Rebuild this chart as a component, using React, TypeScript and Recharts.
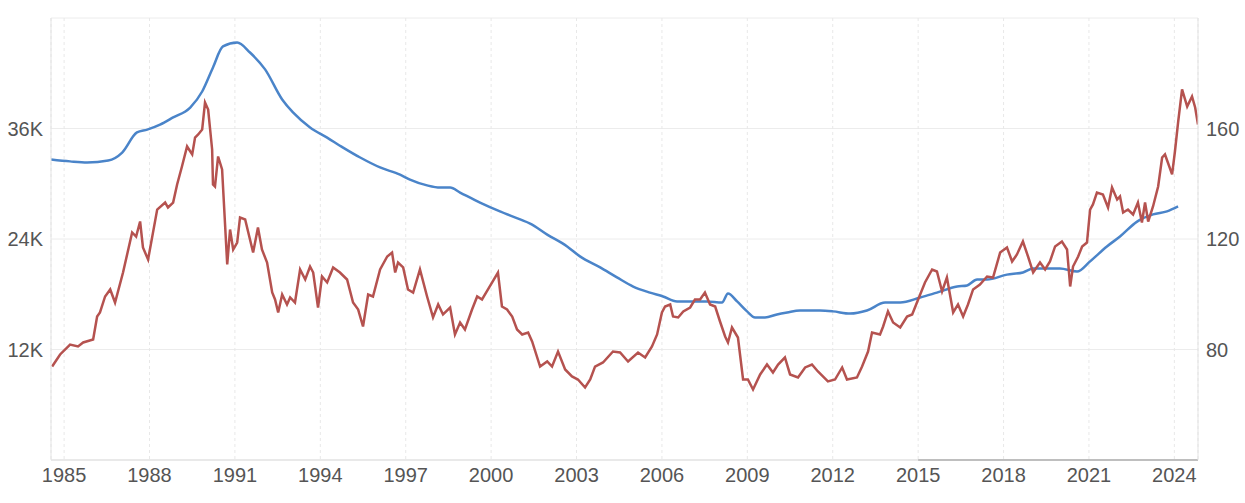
import {
  LineChart,
  Line,
  XAxis,
  YAxis,
  CartesianGrid,
  ReferenceLine,
} from 'recharts';

const yearTicks = [1985, 1988, 1991, 1994, 1997, 2000, 2003, 2006, 2009, 2012, 2015, 2018, 2021, 2024];
const leftTicks = [0, 12000, 24000, 36000, 48000];
const rightTicks = [40, 80, 120, 160, 200];

const redYears = [
  1984.58, 1984.86, 1985.21, 1985.49, 1985.67, 1986.02, 1986.16, 1986.26, 1986.44, 1986.62,
  1986.79, 1987.07, 1987.39, 1987.53, 1987.67, 1987.77, 1987.95, 1988.27, 1988.55, 1988.65,
  1988.83, 1988.97, 1989.14, 1989.32, 1989.5, 1989.6, 1989.71, 1989.85, 1989.95, 1990.06,
  1990.2, 1990.23, 1990.3, 1990.41, 1990.55, 1990.73, 1990.83, 1990.94, 1991.08, 1991.18,
  1991.36, 1991.53, 1991.64, 1991.81, 1991.95, 1992.13, 1992.31, 1992.41, 1992.52, 1992.66,
  1992.83, 1992.94, 1993.11, 1993.29, 1993.47, 1993.64, 1993.75, 1993.92, 1994.06, 1994.24,
  1994.45, 1994.69, 1994.94, 1995.15, 1995.33, 1995.5, 1995.68, 1995.85, 1996.1, 1996.35,
  1996.52, 1996.63, 1996.73, 1996.91, 1997.08, 1997.26, 1997.5, 1997.75, 1997.96, 1998.14,
  1998.31, 1998.56, 1998.73, 1998.91, 1999.08, 1999.33, 1999.51, 1999.68, 1999.89, 2000.24,
  2000.38, 2000.56, 2000.74, 2000.91, 2001.09, 2001.3, 2001.44, 2001.72, 2001.97, 2002.14,
  2002.35, 2002.6, 2002.84, 2003.05, 2003.3, 2003.48, 2003.65, 2003.93, 2004.28, 2004.53,
  2004.81, 2005.16, 2005.41, 2005.65, 2005.83, 2006.0, 2006.11, 2006.29, 2006.39, 2006.57,
  2006.75, 2006.99, 2007.16, 2007.34, 2007.51, 2007.69, 2007.87, 2008.04, 2008.22, 2008.32,
  2008.46, 2008.67, 2008.85, 2009.02, 2009.2, 2009.45, 2009.69, 2009.9, 2010.08, 2010.32,
  2010.5, 2010.78, 2011.03, 2011.27, 2011.48, 2011.83, 2012.08, 2012.33, 2012.5, 2012.85,
  2013.03, 2013.24, 2013.38, 2013.66, 2013.77, 2013.94, 2014.12, 2014.37, 2014.61, 2014.79,
  2015.0, 2015.24, 2015.49, 2015.66, 2015.84, 2016.01, 2016.23, 2016.4, 2016.58, 2016.75,
  2016.93, 2017.17, 2017.42, 2017.63, 2017.88, 2018.12, 2018.3, 2018.47, 2018.68, 2018.86,
  2019.04, 2019.28, 2019.46, 2019.63, 2019.81, 2020.05, 2020.23, 2020.34, 2020.44, 2020.62,
  2020.76, 2020.93, 2021.04, 2021.14, 2021.28, 2021.49, 2021.67, 2021.81, 2021.99, 2022.09,
  2022.2, 2022.37, 2022.55, 2022.72, 2022.86, 2022.97, 2023.08, 2023.25, 2023.43, 2023.57,
  2023.67, 2023.92, 2024.02, 2024.13, 2024.27, 2024.45, 2024.62, 2024.73, 2024.83,
];

const redValues = [
  10150, 11460, 12540, 12330, 12760, 13090, 15580, 16020, 17760, 18520,
  17100, 20360, 24710, 24270, 25900, 23080, 21770, 27200, 27960, 27420,
  27960, 29920, 31870, 34050, 33180, 35020, 35350, 35890, 38820, 38060,
  33720, 29920, 29700, 32960, 31550, 21230, 25030, 22860, 23620, 26340,
  26120, 23950, 22530, 25250, 22860, 21450, 18190, 17430, 16020, 17970,
  16890, 17650, 17100, 20690, 19600, 21010, 20360, 16560, 19930, 19280,
  20910, 20360, 19600, 17100, 16340, 14500, 17970, 17760, 20690, 22100,
  22530, 20360, 21450, 20910, 18520, 18190, 20690, 17760, 15480, 16890,
  15800, 16560, 13630, 14930, 14170, 16340, 17760, 17430, 18520, 20360,
  16670, 16340, 15580, 14170, 13630, 13850, 12870, 10150, 10700, 10150,
  11780, 9830, 9070, 8740, 7870, 8740, 10150, 10590, 11780, 11670,
  10700, 11670, 11130, 12330, 13630, 16020, 16670, 16890, 15580, 15480,
  16130, 16560, 17430, 17430, 18190, 16890, 16670, 15040, 13410, 12760,
  14390, 13300, 8740, 8740, 7660, 9290, 10370, 9500, 10370, 11130,
  9290, 8960, 10050, 10370, 9610, 8530, 8740, 10050, 8740, 8960,
  10150, 11780, 13850, 13630, 14500, 16130, 14930, 14390, 15580, 15800,
  17430, 19280, 20690, 20470, 18300, 19820, 16020, 16890, 15580, 16890,
  18520, 19060, 19930, 19820, 22530, 23080, 21560, 22320, 23730, 22100,
  20360, 21450, 20690, 21560, 23190, 23730, 22860, 18840, 21010, 22100,
  23190, 23620, 27200, 27750, 29050, 28830, 27420, 29590, 28290, 28620,
  26880, 27200, 26660, 27960, 25790, 27960, 25900, 27530, 29700, 32850,
  33180, 31010, 33500, 36650, 40240, 38390, 39480, 38280, 36440,
];

const blueYears = [
  1984.54, 1985.21, 1985.81, 1986.55, 1987.04, 1987.56, 1987.92, 1988.37, 1988.83, 1989.43,
  1989.85, 1990.23, 1990.58, 1991.08, 1991.53, 1992.06, 1992.66, 1993.04, 1993.64, 1994.24,
  1994.8, 1995.4, 1996.1, 1996.8, 1997.15, 1997.75, 1998.21, 1998.56, 1998.91, 1999.61,
  2000.31, 2001.02, 2001.37, 2001.97, 2002.67, 2003.12, 2003.83, 2004.42, 2004.99, 2005.58,
  2006.04, 2006.53, 2006.99, 2007.58, 2008.11, 2008.32, 2008.64, 2008.99, 2009.27, 2009.62,
  2010.04, 2010.4, 2010.85, 2011.55, 2012.01, 2012.61, 2013.2, 2013.84, 2014.37, 2015.07,
  2015.66, 2016.37, 2016.72, 2017.07, 2017.42, 2018.12, 2018.68, 2019.04, 2019.63, 2019.98,
  2020.58, 2021.04, 2021.63, 2022.09, 2022.69, 2023.25, 2023.74, 2024.13,
];

const blueValues = [
  148.8, 148.1, 147.7, 148.4, 151.3, 158.6, 159.6, 161.4, 164.0, 167.6,
  173.4, 182.1, 189.7, 191.1, 187.5, 181.4, 170.5, 165.8, 160.4, 156.7,
  153.1, 149.5, 145.9, 143.3, 141.5, 139.4, 138.6, 138.6, 136.8, 133.2,
  130.0, 127.1, 125.6, 121.6, 117.3, 113.7, 109.7, 106.1, 102.8, 100.6,
  99.2, 97.4, 97.4, 97.4, 97.0, 100.3, 97.4, 93.8, 91.6, 91.6,
  92.7, 93.4, 94.1, 94.1, 93.8, 93.0, 94.1, 97.0, 97.0, 98.8,
  100.6, 102.8, 103.2, 105.3, 105.3, 107.1, 107.9, 109.3, 109.3, 109.3,
  108.2, 111.9, 117.3, 120.9, 126.3, 128.9, 130.0, 131.8,
];

const redData = redYears.map((t, i) => ({ t, v: redValues[i] }));
const blueData = blueYears.map((t, i) => ({ t, v: blueValues[i] }));

const font = 'Arial, "Liberation Sans", sans-serif';
const tickStyle = { fill: '#555', fontSize: 20, fontFamily: font };

const fmtLeft = (v: number) => (v === 0 || v === 48000 ? '' : `${v / 1000}K`);
const fmtRight = (v: number) => (v === 40 || v === 200 ? '' : `${v}`);

export default function App() {
  return (
    <div style={{ position: 'absolute', left: 0, top: 0, background: '#fff' }}>
      <LineChart width={1245} height={503} margin={{ top: 18, right: 0, bottom: 0, left: 0 }}>
        <CartesianGrid yAxisId="left" vertical={false} stroke="#ececec" />
        <CartesianGrid yAxisId="left" horizontal={false} stroke="#e8e8e8" strokeDasharray="3 3" />
        <XAxis
          dataKey="t"
          type="number"
          domain={[1984.54, 2024.83]}
          ticks={yearTicks}
          interval={0}
          height={43}
          tickLine={false}
          axisLine={{ stroke: '#ddd' }}
          tick={tickStyle}
          allowDataOverflow
        />
        <YAxis
          yAxisId="left"
          orientation="left"
          width={51}
          domain={[0, 48000]}
          ticks={leftTicks}
          tickFormatter={fmtLeft}
          tickLine={false}
          axisLine={{ stroke: '#e3e3e3' }}
          tick={tickStyle}
        />
        <YAxis
          yAxisId="right"
          orientation="right"
          width={47}
          domain={[40, 200]}
          ticks={rightTicks}
          tickFormatter={fmtRight}
          tickLine={false}
          axisLine={{ stroke: '#e3e3e3' }}
          tick={{ ...tickStyle, textAnchor: 'start' }}
        />
        <ReferenceLine
          yAxisId="left"
          segment={[{ x: 2015, y: 0 }, { x: 2024.83, y: 0 }]}
          stroke="#a0a0a0"
          strokeWidth={2}
          ifOverflow="visible"
        />
        <Line
          yAxisId="right"
          data={blueData}
          dataKey="v"
          type="monotone"
          stroke="#4a84c9"
          strokeWidth={2.5}
          dot={false}
          isAnimationActive={false}
        />
        <Line
          yAxisId="left"
          data={redData}
          dataKey="v"
          type="linear"
          stroke="#b5524f"
          strokeWidth={2.5}
          dot={false}
          isAnimationActive={false}
        />
      </LineChart>
    </div>
  );
}
